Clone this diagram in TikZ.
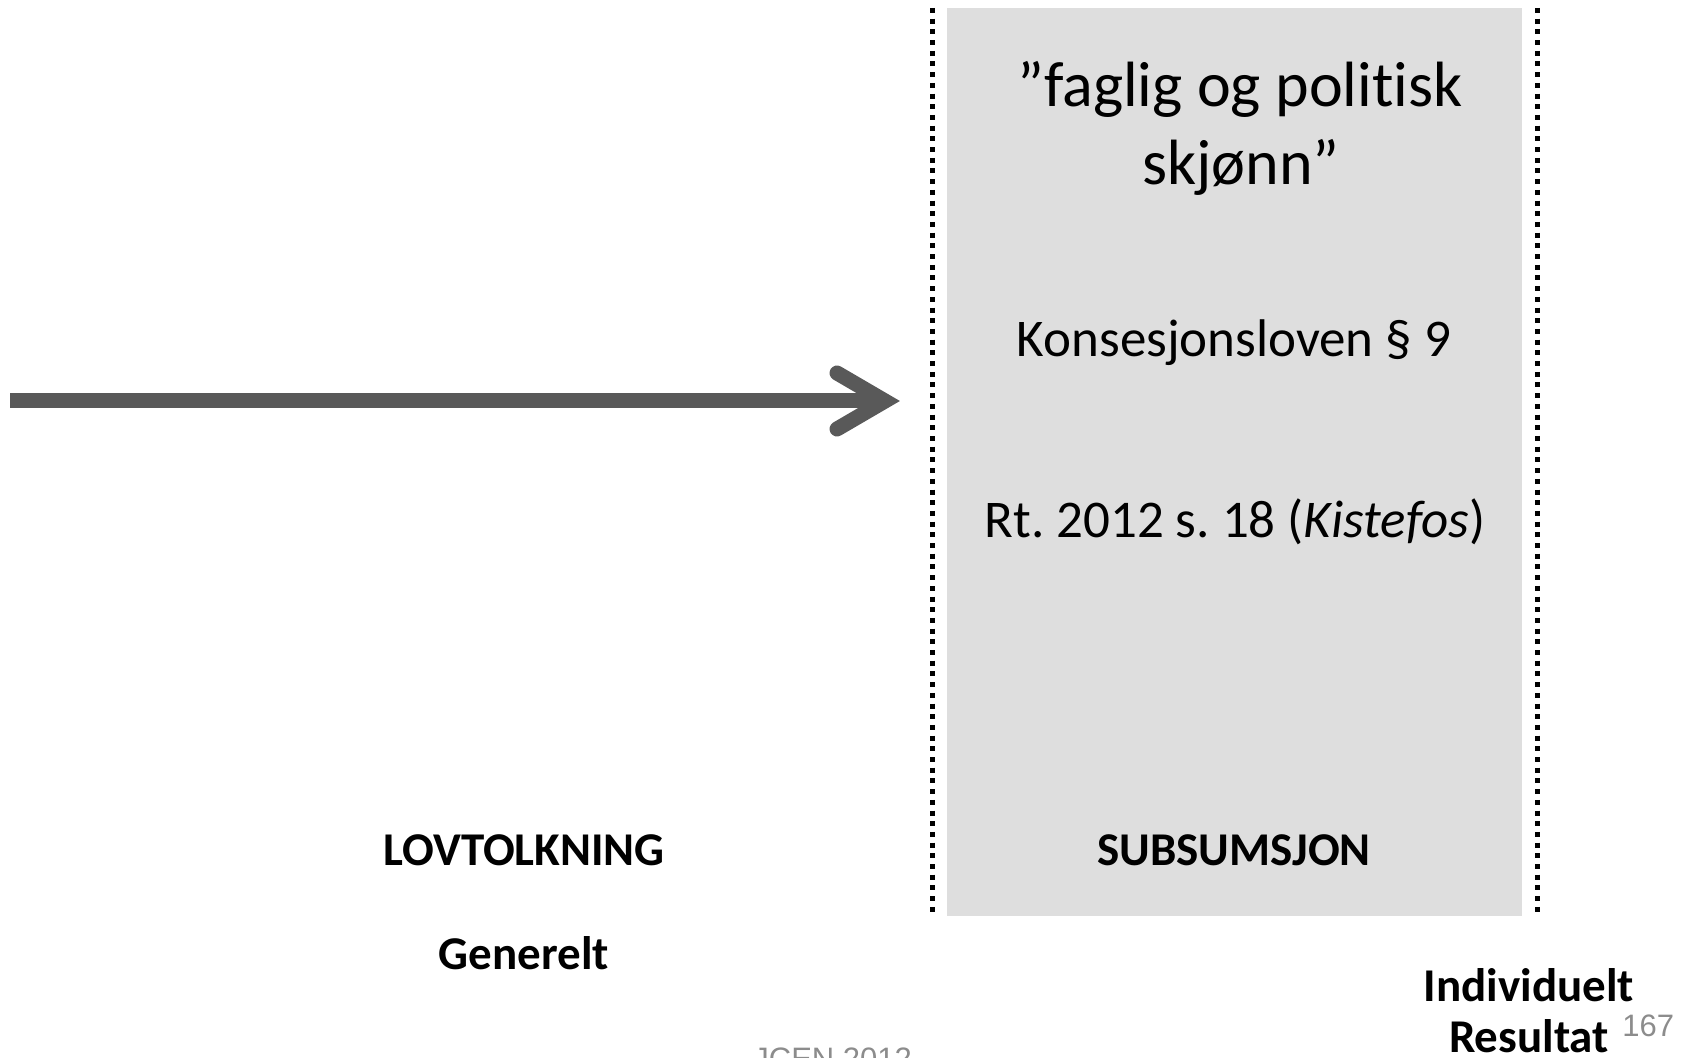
\documentclass[tikz,border=0pt]{standalone}
\usepackage{fontspec}
\setmainfont{Carlito}[Ligatures=NoCommon]
\newfontfamily\fotfont{Liberation Sans}
\usetikzlibrary{calc}
\definecolor{boksgraa}{HTML}{DEDEDE}
\definecolor{pilgraa}{HTML}{595959}
\definecolor{fotgraa}{HTML}{8C8C8C}
\frenchspacing
\begin{document}
\begin{tikzpicture}[x=0.5pt, y=-0.5pt,
	prikket/.style={line width=2.5pt, dash pattern=on 2.5pt off 2.85pt},
	pil/.style={pilgraa, line width=7.5pt},
	tittel/.style={anchor=base, inner sep=0pt, font=\fontsize{32}{38}\selectfont},
	brodtekst/.style={anchor=base, inner sep=0pt, font=\fontsize{26.5}{32}\selectfont},
	etikett/.style={anchor=base, inner sep=0pt, font=\bfseries\fontsize{23.5}{28}\selectfont},
	fottekst/.style={anchor=base west, inner sep=0pt, fotgraa, font=\fotfont\fontsize{15.5}{18}\selectfont}]
	
	\useasboundingbox (0,0) rectangle (1684,1058);
	
	% --- SUBSUMSJON: GRÅ BOKS ---
	\fill[boksgraa] (947,8) rectangle (1522,916);
	
	% Prikkede skillelinjer
	\draw[prikket] (932,8) -- (932,916);
	\draw[prikket] (1537,8) -- (1537,916);
	
	% --- PIL: LOVTOLKNING -> SUBSUMSJON ---
	\coordinate (pilstart) at (10,401);
	\coordinate (pilspiss) at (885,401);
	\draw[pil] (pilstart) -- ($(pilspiss)+(-6,0)$);
	\draw[pil, line cap=round, line join=miter] ($(pilspiss)+(-48,-28)$) -- (pilspiss) -- ($(pilspiss)+(-48,28)$);
	
	% Tekst i boksen
	\node[tittel] (skjonn1) at (1240,107) {”faglig og politisk};
	\node[tittel] (skjonn2) at (1241,185) {skjønn”};
	\node[brodtekst] (lov) at (1234,357) {Konsesjonsloven § 9};
	\node[brodtekst] (dom) at (1235,537) {Rt. 2012 s. 18 (\textit{Kistefos})};
	
	% Etiketter nederst
	\node[etikett] (lovtolkning) at (524,865) {LOVTOLKNING};
	\node[etikett] (subsumsjon) at (1234,865) {SUBSUMSJON};
	\node[etikett] (generelt) at (524,969) {Generelt};
	\node[etikett] (individuelt) at (1529,1001) {Individuelt};
	\node[etikett] (resultat) at (1529,1052) {Resultat};
	
	% Sidetall og fotnote
	\node[fottekst] (sidetall) at (1622,1036) {167};
	\node[fottekst] (fotnote) at (753,1069) {JCEN 2012};
	
\end{tikzpicture}
\end{document}
